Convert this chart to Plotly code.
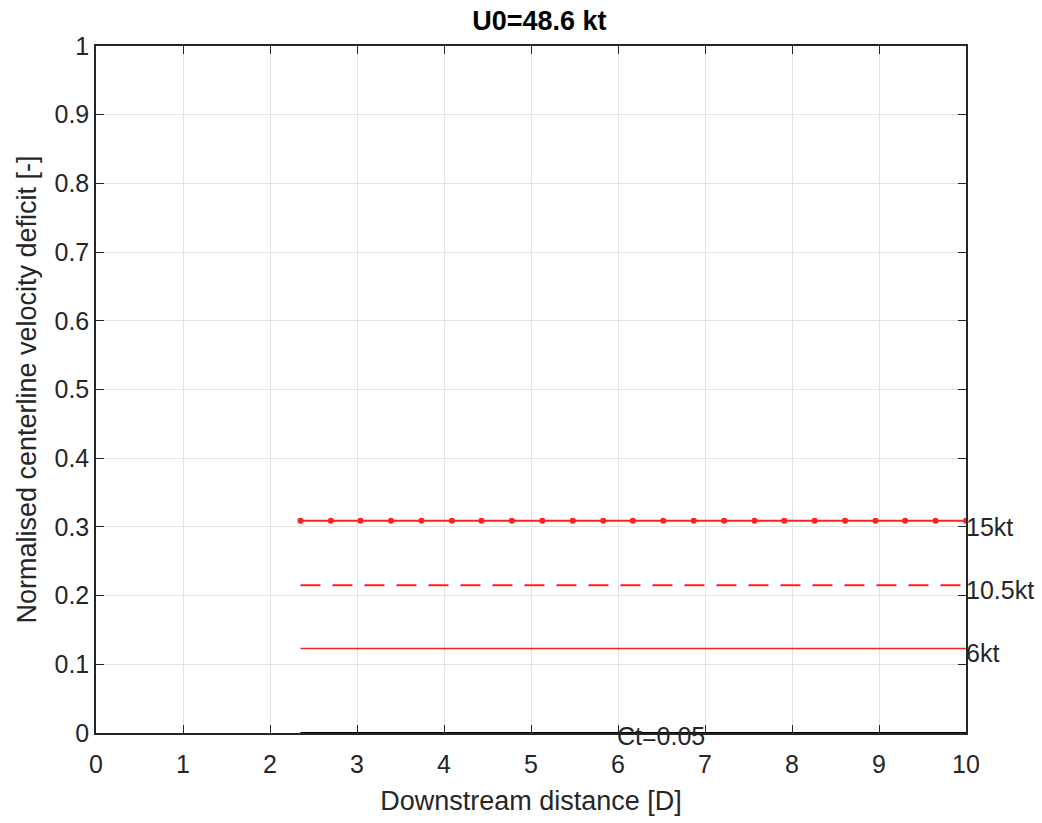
import plotly.graph_objects as go

x_start = 2.35
x_end = 10.0
x_markers = [2.35, 2.70, 3.04, 3.39, 3.74, 4.09, 4.43, 4.78, 5.13, 5.48, 5.83, 6.17,
             6.52, 6.87, 7.22, 7.57, 7.91, 8.26, 8.61, 8.96, 9.30, 9.65, 10.0]
v15 = [0.309] * len(x_markers)
v105 = [0.215, 0.215]
v6 = [0.123, 0.123]
vct = [0.0, 0.0]
labels = ["15kt", "10.5kt", "6kt"]
label_y = [0.300, 0.208, 0.116]
ct_label = "Ct=0.05"
ct_label_x = 6.0
ct_label_y = 0.0

FONT = "Liberation Sans, Arial, Helvetica, sans-serif"
RED = "#ff2020"
TXT = "#262626"

fig = go.Figure()
fig.add_trace(go.Scatter(x=x_markers, y=v15, mode="lines+markers",
                         line=dict(color=RED, width=2),
                         marker=dict(color=RED, size=6), showlegend=False))
fig.add_trace(go.Scatter(x=[x_start, x_end], y=v105, mode="lines",
                         line=dict(color=RED, width=2, dash="20px,12px"), showlegend=False))
fig.add_trace(go.Scatter(x=[x_start, x_end], y=v6, mode="lines",
                         line=dict(color=RED, width=1.5), showlegend=False))
fig.add_trace(go.Scatter(x=[x_start, x_end], y=vct, mode="lines", cliponaxis=False,
                         line=dict(color="black", width=1.8), showlegend=False))

for lab, ly in zip(labels, label_y):
    fig.add_annotation(x=x_end, y=ly, text=lab, showarrow=False, xanchor="left",
                       yanchor="middle", xshift=-2, font=dict(family=FONT, size=25, color=TXT))
fig.add_annotation(x=ct_label_x, y=ct_label_y, text=ct_label, showarrow=False, xanchor="left",
                   yanchor="middle", xshift=-3, yshift=-3, font=dict(family=FONT, size=25, color=TXT))

axis_common = dict(showline=True, linecolor=TXT, linewidth=1.5, mirror="ticks",
                   ticks="inside", ticklen=8, tickwidth=1.2, tickcolor=TXT,
                   showgrid=True, gridcolor="#e3e3e3", gridwidth=1, zeroline=False,
                   tickfont=dict(family=FONT, size=25, color=TXT))

fig.update_xaxes(range=[0, 10], tickvals=list(range(0, 11)), ticklabelstandoff=8,
                 title=dict(text="Downstream distance [D]", font=dict(family=FONT, size=27, color=TXT),
                            standoff=14),
                 **axis_common)
fig.update_yaxes(range=[0, 1], tickvals=[0, 0.1, 0.2, 0.3, 0.4, 0.5, 0.6, 0.7, 0.8, 0.9, 1],
                 ticktext=["0", "0.1", "0.2", "0.3", "0.4", "0.5", "0.6", "0.7", "0.8", "0.9", "1"],
                 title=dict(text="Normalised centerline velocity deficit [-]",
                            font=dict(family=FONT, size=27, color=TXT), standoff=10),
                 **axis_common)

fig.update_layout(
    width=1042, height=823,
    margin=dict(l=96, r=76, t=46, b=90),
    paper_bgcolor="white", plot_bgcolor="white",
    title=dict(text="<b>U0=48.6 kt</b>", x=(96 + 870 / 2) / 1042, xref="paper", xanchor="center",
               y=1 - 21 / 823, yanchor="middle",
               font=dict(family=FONT, size=27, color="black")),
)

fig.write_html("out.html", config={"displayModeBar": False},
               post_script="document.body.style.margin='0';document.body.style.padding='0';")
